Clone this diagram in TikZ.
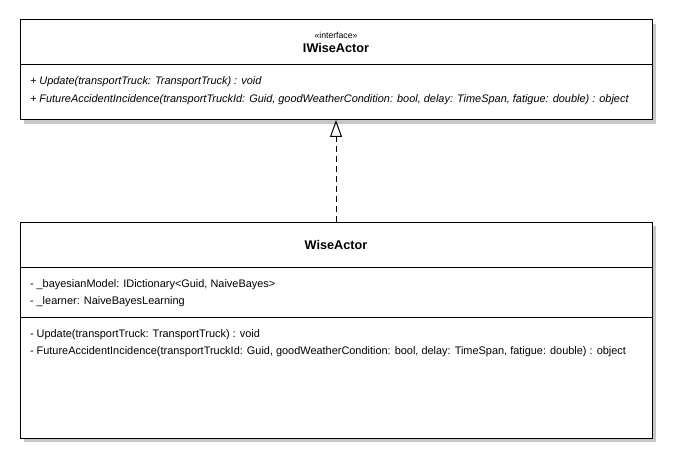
\documentclass[tikz,border=0pt]{standalone}
\usepackage{fontspec}
\setmainfont{Liberation Sans}
\usetikzlibrary{arrows.meta}
\tikzset{
	classbox/.style={draw=black, fill=white, line width=0.75pt, minimum width=474pt},
	shadowbox/.style={fill=black!22},
	member/.style={anchor=base west, font=\fontsize{8.2}{10}\selectfont},
	title/.style={anchor=base, font=\fontsize{9.5}{11}\bfseries\selectfont},
	realize/.style={line width=0.75pt, dash pattern=on 4.5pt off 3pt, -{Triangle[open, length=12.75pt, width=9pt, line width=0.75pt]}}
}
\begin{document}
\begin{tikzpicture}[x=0.75pt,y=-0.75pt]
	\tikzstyle{every node}+=[inner sep=0pt, outer sep=0pt]
	\useasboundingbox (0,0) rectangle (677,463);
	% IWiseActor
	\fill [shadowbox] (24,24) rectangle (656,124);
	\node [classbox, minimum height=75pt] (iwise) at (336,70) {};
	\draw [black, line width=0.75pt] (20,65) -- (652,65);
	\node [anchor=base] (stereo) at (336,38.5) {\fontsize{6.5}{7}\selectfont «interface»};
	\node [title] (iwisename) at (336,52.5) {IWiseActor};
	\node [member] (iupdate) at (30,84.5) {\itshape + Update(transportTruck: TransportTruck) : void};
	\node [member] (ifuture) at (30,102.5) {\itshape + FutureAccidentIncidence(transportTruckId: Guid, goodWeatherCondition: bool, delay: TimeSpan, fatigue: double) : object};
	% WiseActor
	\fill [shadowbox] (24,226) rectangle (656,442);
	\node [classbox, minimum height=162pt] (wise) at (336,330) {};
	\draw [black, line width=0.75pt] (20,267) -- (652,267);
	\draw [black, line width=0.75pt] (20,317) -- (652,317);
	\node [title] (wisename) at (336,249) {WiseActor};
	\node [member] (model) at (30,287) {- \_bayesianModel: IDictionary<Guid, NaiveBayes>};
	\node [member] (learner) at (30,304.5) {- \_learner: NaiveBayesLearning};
	\node [member] (update) at (30,337) {- Update(transportTruck: TransportTruck) : void};
	\node [member] (future) at (30,354) {- FutureAccidentIncidence(transportTruckId: Guid, goodWeatherCondition: bool, delay: TimeSpan, fatigue: double) : object};
	% realization
	\draw [realize] (wise.north) -- (iwise.south);
\end{tikzpicture}
\end{document}
